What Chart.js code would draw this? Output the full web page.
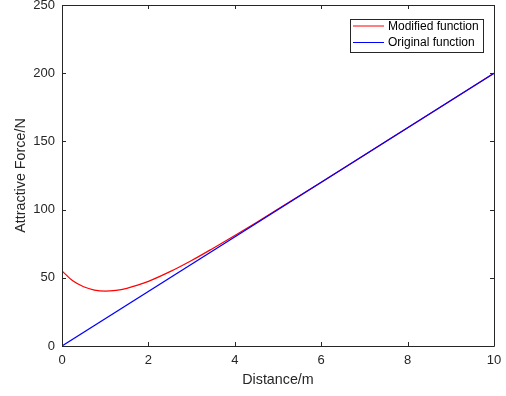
<!DOCTYPE html>
<html>
<head>
<meta charset="utf-8">
<script src="https://cdn.jsdelivr.net/npm/chart.js@4"></script>
<style>
  html, body { margin: 0; padding: 0; background: #fff; }
  #wrap { width: 506px; height: 396px; }
</style>
</head>
<body>
<div id="wrap"><canvas id="forceChart"></canvas></div>
<script>
// values
const distanceModified = [0, 0.25, 0.5, 0.75, 1, 1.25, 1.5, 1.75, 2, 2.5, 3, 3.5, 4, 4.5, 5, 6, 7, 8, 9, 10];
const forceModified = [55, 47.8, 43.4, 41, 40.2, 40.8, 42.3, 44.6, 47.4, 54.5, 62.7, 71.7, 81, 90.6, 100.4, 120.1, 140, 160, 180, 200];
const distanceOriginal = [0, 10];
const forceOriginal = [0, 200];
const xTicks = [0, 2, 4, 6, 8, 10];
const yTicks = [0, 50, 100, 150, 200, 250];
const seriesNames = ["Modified function", "Original function"];

const axisColor = "#262626";
const fontFamily = "'Liberation Sans', Arial, sans-serif";

function toPoints(xs, ys) {
  return xs.map((x, i) => ({ x: x, y: ys[i] }));
}

// MATLAB style box with inward ticks
const boxPlugin = {
  id: "box",
  afterDatasetsDraw(chart) {
    const { ctx, chartArea: a, scales } = chart;
    const len = 4;
    ctx.save();
    ctx.strokeStyle = axisColor;
    ctx.lineWidth = 1;
    ctx.beginPath();
    ctx.rect(Math.round(a.left) + 0.5, Math.round(a.top) + 0.5,
      Math.round(a.right - a.left), Math.round(a.bottom - a.top));
    xTicks.forEach(v => {
      const px = Math.round(scales.x.getPixelForValue(v)) + 0.5;
      ctx.moveTo(px, a.bottom); ctx.lineTo(px, a.bottom - len);
      ctx.moveTo(px, a.top); ctx.lineTo(px, a.top + len);
    });
    yTicks.forEach(v => {
      const py = Math.round(scales.y.getPixelForValue(v)) + 0.5;
      ctx.moveTo(a.left, py); ctx.lineTo(a.left + len, py);
      ctx.moveTo(a.right, py); ctx.lineTo(a.right - len, py);
    });
    ctx.stroke();
    ctx.restore();
  }
};

// legend drawn inside the plot, top right
const legendPlugin = {
  id: "innerLegend",
  afterDraw(chart) {
    const { ctx } = chart;
    const bx = 350.5, by = 19.5, bw = 133, bh = 33;
    ctx.save();
    ctx.fillStyle = "#fff";
    ctx.fillRect(bx, by, bw, bh);
    ctx.strokeStyle = axisColor;
    ctx.lineWidth = 1;
    ctx.strokeRect(bx, by, bw, bh);
    ctx.font = "12px " + fontFamily;
    ctx.textBaseline = "middle";
    ctx.textAlign = "left";
    const rows = [
      { label: seriesNames[0], color: "#ff0000", y: 26 },
      { label: seriesNames[1], color: "#0000ff", y: 42.5 }
    ];
    rows.forEach(r => {
      ctx.strokeStyle = r.color;
      ctx.beginPath();
      ctx.moveTo(353, r.y); ctx.lineTo(384, r.y);
      ctx.stroke();
      ctx.fillStyle = "#000";
      ctx.fillText(r.label, 388, r.y + 0.5);
    });
    ctx.restore();
  }
};

new Chart(document.getElementById("forceChart"), {
  type: "line",
  data: {
    datasets: [{
      label: seriesNames[0],
      data: toPoints(distanceModified, forceModified),
      borderColor: "#ff0000",
      borderWidth: 1.2,
      pointRadius: 0,
      cubicInterpolationMode: "monotone",
      order: 1
    }, {
      label: seriesNames[1],
      data: toPoints(distanceOriginal, forceOriginal),
      borderColor: "#0000ff",
      borderWidth: 1.2,
      pointRadius: 0,
      order: 0
    }]
  },
  options: {
    responsive: true,
    maintainAspectRatio: false,
    animation: false,
    layout: { padding: { top: 5, right: 12, left: 0, bottom: 0 } },
    plugins: { legend: { display: false }, tooltip: { enabled: false } },
    scales: {
      x: {
        type: "linear",
        min: 0,
        max: 10,
        afterBuildTicks: s => { s.ticks = xTicks.map(v => ({ value: v })); },
        afterFit: s => { s.height = 50; s.paddingLeft = 0; s.paddingRight = 0; },
        grid: { display: false, drawTicks: false },
        border: { display: false },
        ticks: { padding: 7, color: axisColor, font: { family: fontFamily, size: 13 } },
        title: {
          display: true,
          text: "Distance/m",
          color: axisColor,
          padding: { top: 0, bottom: 7 },
          font: { family: fontFamily, size: 14.3 }
        }
      },
      y: {
        min: 0,
        max: 250,
        afterBuildTicks: s => { s.ticks = yTicks.map(v => ({ value: v })); },
        afterFit: s => { s.width = 62; s.paddingTop = 0; s.paddingBottom = 0; },
        grid: { display: false, drawTicks: false },
        border: { display: false },
        ticks: { padding: 7, color: axisColor, font: { family: fontFamily, size: 13 } },
        title: {
          display: true,
          text: "Attractive Force/N",
          color: axisColor,
          padding: { top: 12, bottom: 0 },
          font: { family: fontFamily, size: 14.3 }
        }
      }
    }
  },
  plugins: [boxPlugin, legendPlugin]
});
</script>
</body>
</html>
